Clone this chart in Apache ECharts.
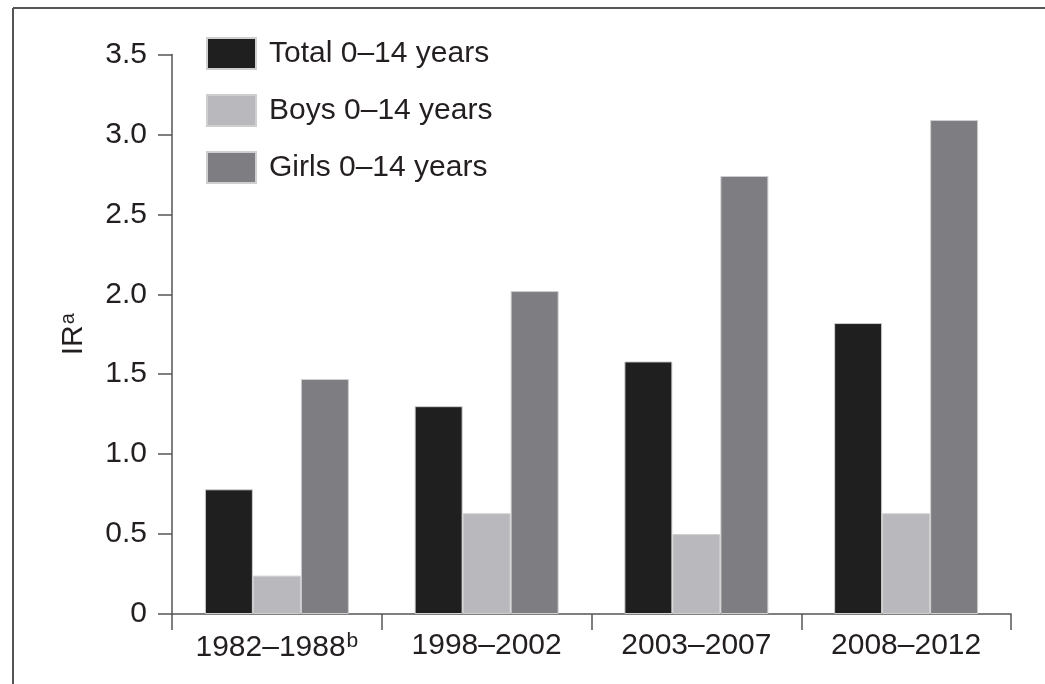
<!DOCTYPE html>
<html>
<head>
<meta charset="utf-8">
<script src="https://cdn.jsdelivr.net/npm/echarts@6/dist/echarts.min.js"></script>
<style>
  html, body { margin: 0; padding: 0; background: #fff; }
  #main { width: 1045px; height: 684px; }
</style>
</head>
<body>
<div id="main"></div>
<script>
const periods = ['1982–1988', '1998–2002', '2003–2007', '2008–2012'];
const periodNotes = ['b', '', '', ''];
const totalIR = [0.78, 1.30, 1.58, 1.82];
const boysIR = [0.24, 0.63, 0.50, 0.63];
const girlsIR = [1.47, 2.02, 2.74, 3.09];
const yTicks = { min: 0, max: 3.5, step: 0.5 };

const font = '"Liberation Sans", Arial, sans-serif';
const ink = '#231f20';
const axisGrey = '#555';

const chart = echarts.init(document.getElementById('main'));

const barSeries = (name, data, color) => ({
  name,
  type: 'bar',
  data,
  barWidth: 48,
  barGap: '0%',
  itemStyle: { color, borderColor: '#cfcfcf', borderWidth: 1 },
});

chart.setOption({
  animation: false,
  textStyle: { fontFamily: font, color: ink },
  graphic: [
    { type: 'line', shape: { x1: 13, y1: 8, x2: 13, y2: 684 }, style: { stroke: axisGrey, lineWidth: 2 } },
    { type: 'line', shape: { x1: 13, y1: 8, x2: 1045, y2: 8 }, style: { stroke: axisGrey, lineWidth: 2 } },
  ],
  grid: { left: 172, right: 34, top: 54.5, bottom: 70 },
  legend: {
    orient: 'vertical',
    left: 206,
    top: 37,
    padding: 0,
    itemWidth: 49,
    itemHeight: 31,
    itemGap: 24,
    icon: 'rect',
    textStyle: { fontFamily: font, fontSize: 30, color: ink, padding: [0, 0, 0, 8] },
    data: ['Total 0–14 years', 'Boys 0–14 years', 'Girls 0–14 years'],
  },
  xAxis: {
    type: 'category',
    data: periods,
    axisLine: { lineStyle: { color: axisGrey, width: 1.5 } },
    axisTick: { show: true, interval: 0, length: 16, lineStyle: { color: axisGrey, width: 1.5 } },
    axisLabel: {
      interval: 0,
      margin: 17,
      fontSize: 30,
      color: ink,
      formatter: (v, i) => periodNotes[i] ? v + '{sup|' + periodNotes[i] + '}' : v,
      rich: { sup: { fontSize: 21, padding: [0, 0, 12, 1], color: ink } },
    },
  },
  yAxis: {
    type: 'value',
    min: yTicks.min,
    max: yTicks.max,
    interval: yTicks.step,
    name: 'IR{sup|a}',
    nameLocation: 'middle',
    nameRotate: 90,
    nameGap: 82,
    nameTextStyle: {
      fontSize: 30,
      color: ink,
      rich: { sup: { fontSize: 20, padding: [0, 0, 12, 1], color: ink } },
    },
    axisLine: { show: true, lineStyle: { color: axisGrey, width: 1.5 } },
    axisTick: { show: true, length: 14, lineStyle: { color: axisGrey, width: 1.5 } },
    splitLine: { show: false },
    axisLabel: {
      margin: 25,
      fontSize: 30,
      color: ink,
      formatter: v => (v === 0 ? '0' : v.toFixed(1)),
    },
  },
  series: [
    barSeries('Total 0–14 years', totalIR, '#1f1f1f'),
    barSeries('Boys 0–14 years', boysIR, '#b9b8bd'),
    barSeries('Girls 0–14 years', girlsIR, '#7e7d82'),
  ],
});
</script>
</body>
</html>
